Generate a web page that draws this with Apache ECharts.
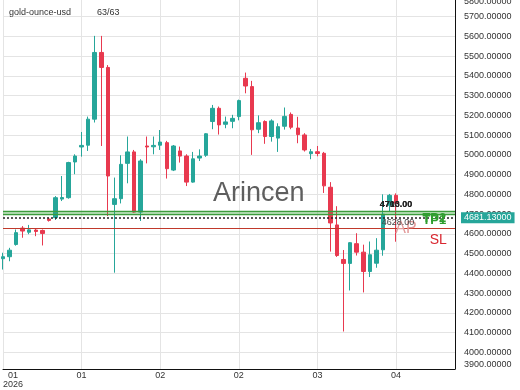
<!DOCTYPE html>
<html>
<head>
<meta charset="utf-8">
<script src="https://cdn.jsdelivr.net/npm/echarts@6/dist/echarts.min.js"></script>
<style>
html,body{margin:0;padding:0;background:#fff;}
#chart{width:520px;height:390px;}
</style>
</head>
<body>
<div id="chart"></div>
<script>
// ---- data ----
const slotCount = 70; // 61 visible candles + empty space on the right
const categories = Array.from({length: slotCount}, (_, i) => String(i));
const xTickLabels = ['01\n2026', '01', '02', '02', '03', '04']; // every 12th slot
// [open, close, low, high]
const candles = [
  [4474,4484,4419,4504],[4484,4517,4461,4529],[4546,4606,4540,4622],[4629,4614,4580,4639],
  [4608,4620,4598,4645],[4619,4612,4588,4626],[4617,4602,4541,4622],[4675,4668,4662,4682],
  [4682,4783,4670,4791],[4776,4784,4766,4893],[4783,4961,4778,4965],[4964,4994,4902,5003],
  [5040,5048,4991,5116],[5049,5181,5020,5194],[5181,5519,5164,5603],[5519,5443,5045,5603],
  [5443,4893,4690,5455],[4749,4778,4403,4885],[4778,4952,4754,4998],[4957,5015,4856,5093],
  [5015,4710,4707,5025],[4710,4969,4665,4978],[5045,5040,4957,5093],[5041,5048,5003,5093],
  [5049,5065,5025,5126],[5062,4930,4880,5071],[4923,5045,4918,5050],[5020,4994,4961,5042],
  [4994,4862,4842,5003],[4862,4980,4859,5015],[4984,4994,4969,5028],[4998,5107,4990,5110],
  [5169,5236,5130,5253],[5236,5152,5103,5245],[5155,5167,5135,5194],[5170,5185,5135,5203],
  [5194,5275,5175,5280],[5388,5349,5312,5417],[5346,5127,5000,5375],[5130,5163,5110,5200],
  [5169,5093,5056,5175],[5093,5172,5067,5180],[5085,5143,5015,5160],[5145,5195,5128,5240],
  [5205,5140,5130,5215],[5136,5103,5059,5193],[5101,5025,5017,5110],[5006,5016,4978,5030],
  [5016,5007,4993,5045],[5008,4843,4807,5015],[4836,4655,4510,4862],[4645,4490,4483,4740],
  [4470,4450,4105,4518],[4450,4555,4313,4558],[4550,4507,4490,4603],[4507,4409,4303,4545],
  [4409,4494,4381,4561],[4451,4517,4428,4578],[4519,4700,4489,4800],[4745,4795,4715,4802],
  [4795,4755,4560,4805]
];
const yMin = 3915, yMax = 5800;
const levels = { tp1: 4700, tp2: 4713, ap: 4681.13, sl: 4628 };
const headerName = 'gold-ounce-usd';
const headerCount = '63/63';
const watermark = 'Arincen';

// ---- chart ----
const FONT = 'Liberation Sans, Arial, sans-serif';
const chart = echarts.init(document.getElementById('chart'), null, {renderer: 'canvas'});
const lastIdx = candles.length - 1;
const tagIdx = 66;

chart.setOption({
  animation: false,
  backgroundColor: '#ffffff',
  textStyle: {fontFamily: FONT},
  grid: {left: 3, right: 65, top: -3, bottom: 21, outerBoundsMode: 'none', containLabel: false},
  xAxis: {
    type: 'category',
    data: categories,
    boundaryGap: false,
    axisLine: {show: true, lineStyle: {color: '#111', width: 1}},
    axisTick: {show: false},
    splitLine: {show: true, interval: 11, lineStyle: {color: '#e4e4e4', width: 1}},
    axisLabel: {
      interval: 11, margin: 2, fontSize: 9, lineHeight: 9, color: '#333', fontFamily: FONT,
      alignMinLabel: 'left',
      formatter: (v, idx) => {
        const t = xTickLabels[idx / 12];
        if (t === undefined) return '';
        if (t.indexOf('\n') >= 0) return t.split('\n').map(s => '{c|' + s + '}').join('\n');
        return t;
      },
      rich: {c: {align: 'center', fontSize: 9, lineHeight: 9, color: '#333', fontFamily: FONT}}
    }
  },
  yAxis: {
    type: 'value', position: 'right', scale: true,
    min: yMin, max: yMax, splitNumber: 19,
    axisLine: {show: true, lineStyle: {color: '#111', width: 1}},
    axisTick: {show: false},
    splitLine: {show: true, lineStyle: {color: '#e4e4e4', width: 1}},
    axisLabel: {
      margin: 9, fontSize: 9, color: '#333', fontFamily: FONT,
      verticalAlignMinLabel: 'bottom',
      verticalAlignMaxLabel: 'top',
      formatter: v => (Math.round(v / 100) * 100).toFixed(5)
    }
  },
  graphic: [
    {type: 'text', left: 9, top: 8, z: 50, style: {text: headerName, font: '9px ' + FONT, fill: '#333'}},
    {type: 'text', left: 97, top: 8, z: 50, style: {text: headerCount, font: '9px ' + FONT, fill: '#333'}},
    {type: 'text', left: 213, top: 180, z: 1, style: {text: watermark, font: '27px ' + FONT, fill: '#5e5e5e'}}
  ],
  series: [{
    type: 'candlestick',
    data: candles,
    barWidth: 4,
    itemStyle: {color: '#26a69a', color0: '#e8394f', borderColor: '#26a69a', borderColor0: '#e8394f', borderWidth: 1},
    markArea: {
      silent: true,
      itemStyle: {color: 'rgba(120,200,120,0.35)'},
      data: [[{yAxis: levels.tp1}, {yAxis: levels.tp2}]]
    },
    markLine: {
      silent: true, symbol: ['none', 'none'], animation: false,
      data: [
        {yAxis: levels.tp2, lineStyle: {color: '#3c9c3c', width: 1.3, type: 'solid'}, label: {show: false}},
        {yAxis: levels.tp1, lineStyle: {color: '#3c9c3c', width: 1.3, type: 'solid'}, label: {show: false}},
        {yAxis: levels.sl, lineStyle: {color: '#c0392b', width: 1, type: 'solid'}, label: {show: false}},
        {yAxis: levels.ap, lineStyle: {color: '#222', width: 1.5, type: [2, 2]},
          label: {show: true, position: 'end', distance: 6, formatter: levels.ap.toFixed(5),
            backgroundColor: '#26a69a', color: '#fff', fontSize: 9, padding: [1, 3], fontFamily: FONT}}
      ]
    },
    markPoint: {
      silent: true, symbol: 'circle', symbolSize: 0, z: 10,
      data: [
        {coord: [lastIdx, levels.ap], label: {show: true, formatter: 'AP', offset: [10, 11], color: '#e29a9a', fontSize: 16}},
        {coord: [lastIdx, levels.tp2], label: {show: true, formatter: levels.tp2.toFixed(2), offset: [0, -7], color: '#222', fontWeight: 'bold', fontSize: 9}},
        {coord: [lastIdx, levels.tp1], label: {show: true, formatter: levels.tp1.toFixed(2), offset: [0, -10], color: '#222', fontWeight: 'bold', fontSize: 9}},
        {coord: [lastIdx, levels.sl], label: {show: true, formatter: levels.sl.toFixed(2), offset: [2, -6], color: '#444', fontSize: 9}},
        {coord: [tagIdx, levels.tp2], label: {show: true, formatter: 'TP2', offset: [-1, 7], color: '#2f9e2f', fontWeight: 'bold', fontSize: 13}},
        {coord: [tagIdx, levels.tp1], label: {show: true, formatter: 'TP1', offset: [-1, 6], color: '#2f9e2f', fontWeight: 'bold', fontSize: 13}},
        {coord: [tagIdx, levels.sl], label: {show: true, formatter: 'SL', offset: [3, 12], color: '#d9262f', fontSize: 14}}
      ]
    }
  }]
});
</script>
</body>
</html>
